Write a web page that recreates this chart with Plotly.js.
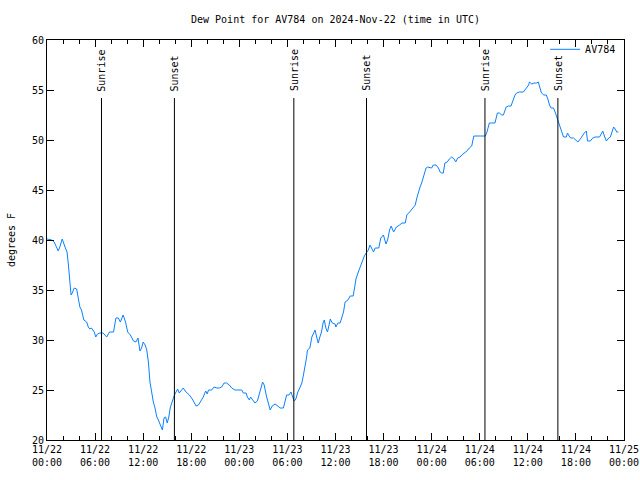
<!DOCTYPE html>
<html>
<head>
<meta charset="utf-8">
<script src="https://cdn.plot.ly/plotly-3.0.1.min.js"></script>
<style>html,body{margin:0;padding:0;background:#fff;}#chart{width:640px;height:480px;}</style>
</head>
<body>
<div id="chart"></div>
<script>
// Hours since 2024-11-22 00:00 UTC
const hours = [
0.0,0.6,0.9,1.4,1.6,1.9,2.25,2.5,2.65,2.83,3.0,3.15,3.4,3.7,3.9,4.1,4.3,4.6,4.95,5.15,5.35,5.55,5.9,6.08,6.3,6.6,7.0,7.45,7.8,8.3,8.6,8.9,9.15,9.5,9.8,10.07,10.4,10.8,11.1,11.35,11.6,11.8,12.0,
12.25,12.45,12.65,12.85,13.07,13.27,13.48,13.7,13.9,14.2,14.4,14.6,14.8,15.0,15.2,15.4,15.65,15.9,16.1,16.3,16.5,16.75,17.0,17.35,17.77,18.2,18.6,18.9,19.2,19.5,19.8,20.0,20.15,20.55,20.85,21.2,21.5,21.8,22.1,22.4,22.75,23.05,23.45,24.3,24.5,24.85,25.0,25.25,25.4,25.65,25.95,26.25,26.5,26.7,26.9,27.1,27.35,27.65,27.85,
28.1,28.45,28.8,29.1,29.5,29.7,29.9,30.2,30.45,30.65,30.85,31.05,31.3,31.6,31.8,32.0,32.2,32.4,32.5,32.8,33.05,33.25,33.45,33.65,33.85,34.05,34.25,34.45,34.6,34.8,35.0,35.2,35.35,35.6,35.95,36.05,36.3,36.58,36.8,37.0,37.2,37.55,37.83,38.2,38.4,38.55,38.8,39.07,39.3,39.6,39.83,40.1,40.3,
40.55,40.75,40.95,41.4,41.65,41.98,42.3,42.5,42.75,42.95,43.25,43.6,44.0,44.3,44.7,44.9,45.25,45.65,45.95,46.15,46.35,46.55,46.75,46.95,47.1,47.3,47.5,47.8,48.0,48.2,48.55,48.85,49.05,49.25,49.45,49.65,49.95,50.2,50.5,50.8,51.0,51.25,51.55,51.75,52.05,52.4,52.7,53.0,53.15,53.27,54.1,
54.7,54.9,55.2,55.5,55.9,56.2,56.45,56.75,56.95,57.3,57.6,57.9,58.05,58.4,58.6,58.95,59.45,59.8,60.1,60.2,60.5,60.8,61.1,61.3,61.5,61.7,62.0,62.3,62.5,62.7,62.9,63.2,63.4,63.6,63.8,64.05,64.25,64.45,64.8,64.95,65.15,65.35,65.7,66.0,66.25,66.55,66.85,67.05,67.3,67.45,67.8,68.1,68.4,68.95,69.15,69.35,69.55,69.8,70.1,70.3,70.5,70.7,70.9,71.1,71.3
];
const dewPoint = [
40.1,40.0,39.8,38.9,39.3,40.1,39.3,38.8,37.7,35.8,34.5,34.7,35.2,35.1,34.0,33.3,33.0,32.0,31.8,31.3,31.1,31.2,30.8,30.3,30.6,30.7,30.7,30.3,30.8,30.8,32.2,32.2,31.8,32.5,31.8,30.8,30.5,29.9,29.8,30.2,28.9,29.2,29.8,
29.5,29.0,27.8,25.8,24.5,23.8,23.2,22.3,22.0,21.5,21.0,22.2,22.3,21.7,22.3,23.3,24.0,24.5,24.8,25.1,24.7,25.0,25.2,24.8,24.5,24.0,23.4,23.5,23.9,24.3,24.9,24.6,25.0,25.0,25.3,25.2,25.2,25.3,25.7,25.7,25.5,25.2,25.0,25.0,24.7,24.7,24.3,24.0,24.3,24.0,23.7,23.9,24.5,25.2,25.8,25.5,24.5,23.7,23.0,
23.4,23.6,23.4,23.2,23.2,24.0,24.5,24.5,24.8,24.3,23.9,24.1,24.8,25.3,25.7,26.5,27.3,28.3,29.0,29.2,30.3,30.7,31.0,30.3,29.7,30.3,30.8,31.7,32.0,31.2,30.8,31.5,32.1,31.7,31.6,31.3,31.7,31.7,32.3,32.8,33.8,34.0,34.4,34.4,35.3,36.1,36.7,37.3,37.9,38.4,38.7,39.0,39.5,
39.1,38.8,39.2,39.2,40.2,40.5,39.6,40.0,41.0,41.4,40.8,41.3,41.5,41.7,41.7,42.5,42.8,43.2,43.5,44.2,44.8,45.3,45.7,46.2,46.7,47.2,47.3,47.2,47.2,47.5,47.5,47.2,46.8,46.7,46.7,47.7,47.8,48.1,48.3,48.1,47.8,48.2,48.3,48.5,48.7,48.9,49.2,49.4,50.0,50.4,50.4,
50.4,50.8,51.7,51.7,51.7,52.7,52.7,52.5,52.5,53.3,53.4,53.4,53.8,54.5,54.7,54.8,54.8,55.2,55.5,55.8,55.6,55.7,55.7,55.8,55.3,54.7,54.5,54.5,54.1,53.5,53.2,53.2,52.8,52.3,51.8,51.3,50.8,50.3,50.3,50.7,50.4,50.2,50.2,50.0,49.8,50.1,50.5,50.7,50.9,49.9,49.9,50.2,50.3,50.3,50.6,50.9,50.4,49.9,50.2,50.3,50.8,51.3,51.1,50.8,50.8
];
const eventLabels = ["Sunrise","Sunset","Sunrise","Sunset","Sunrise","Sunset"];
const eventHours = [6.8, 15.9, 30.8, 39.87, 54.65, 63.75];
const seriesName = "AV784";
const titleText = "Dew Point for AV784 on 2024-Nov-22 (time in UTC)";
const yTitle = "degrees F";

const base = Date.UTC(2024, 10, 22, 0, 0, 0);
function toDate(h) {
  return new Date(base + Math.round(h * 3600000)).toISOString().replace('T', ' ').slice(0, 19);
}
const xDates = hours.map(toDate);
const evDates = eventHours.map(toDate);

const font = "DejaVu Sans Mono, monospace";

const shapes = evDates.map(d => ({
  type: 'line', xref: 'x', yref: 'paper', x0: d, x1: d, y0: 0, y1: 0.855,
  line: {color: '#000', width: 1}
}));
const annotations = evDates.map((d, i) => ({
  xref: 'x', yref: 'paper', x: d, y: 0.867, xanchor: 'center', yanchor: 'bottom',
  text: eventLabels[i], textangle: -90, showarrow: false,
  font: {family: font, size: 10, color: '#000'}
}));

const trace = {
  x: xDates, y: dewPoint, type: 'scatter', mode: 'lines', name: seriesName,
  line: {color: 'rgb(10,128,255)', width: 1}
};

const layout = {
  width: 640, height: 480,
  margin: {l: 47, r: 16, t: 40, b: 40, pad: 0},
  paper_bgcolor: '#fff', plot_bgcolor: '#fff',
  font: {family: font, size: 10, color: '#000'},
  title: {text: titleText, x: 0.5, xref: 'paper', xanchor: 'center', y: 1 - 19/480, yref: 'container', yanchor: 'middle', font: {family: font, size: 10, color: '#000'}},
  showlegend: true,
  legend: {x: 0.995, xanchor: 'right', y: 1.013, yanchor: 'top', bgcolor: 'rgba(0,0,0,0)', borderwidth: 0, font: {family: font, size: 10}},
  xaxis: {
    type: 'date', range: ['2024-11-22 00:00:00', '2024-11-25 00:00:00'],
    tick0: '2024-11-22 00:00:00', dtick: 6 * 3600000, tickformat: '%m/%d<br>%H:%M',
    ticks: 'inside', ticklen: 7, tickcolor: '#000', tickwidth: 1,
    minor: {dtick: 2 * 3600000, ticks: 'inside', ticklen: 4, tickcolor: '#000', showgrid: false},
    showline: true, linecolor: '#000', linewidth: 1, mirror: 'allticks',
    showgrid: false, zeroline: false, fixedrange: true,
    tickfont: {family: font, size: 10, color: '#000'}
  },
  yaxis: {
    range: [20, 60], dtick: 5, tick0: 20,
    ticks: 'inside', ticklen: 7, tickcolor: '#000', tickwidth: 1,
    showline: true, linecolor: '#000', linewidth: 1, mirror: 'allticks',
    showgrid: false, zeroline: false, fixedrange: true,
    tickfont: {family: font, size: 10, color: '#000'},
    title: {text: yTitle, standoff: 14, font: {family: font, size: 10, color: '#000'}}
  },
  shapes: shapes,
  annotations: annotations
};

Plotly.newPlot('chart', [trace], layout, {staticPlot: true, displayModeBar: false});
</script>
</body>
</html>
